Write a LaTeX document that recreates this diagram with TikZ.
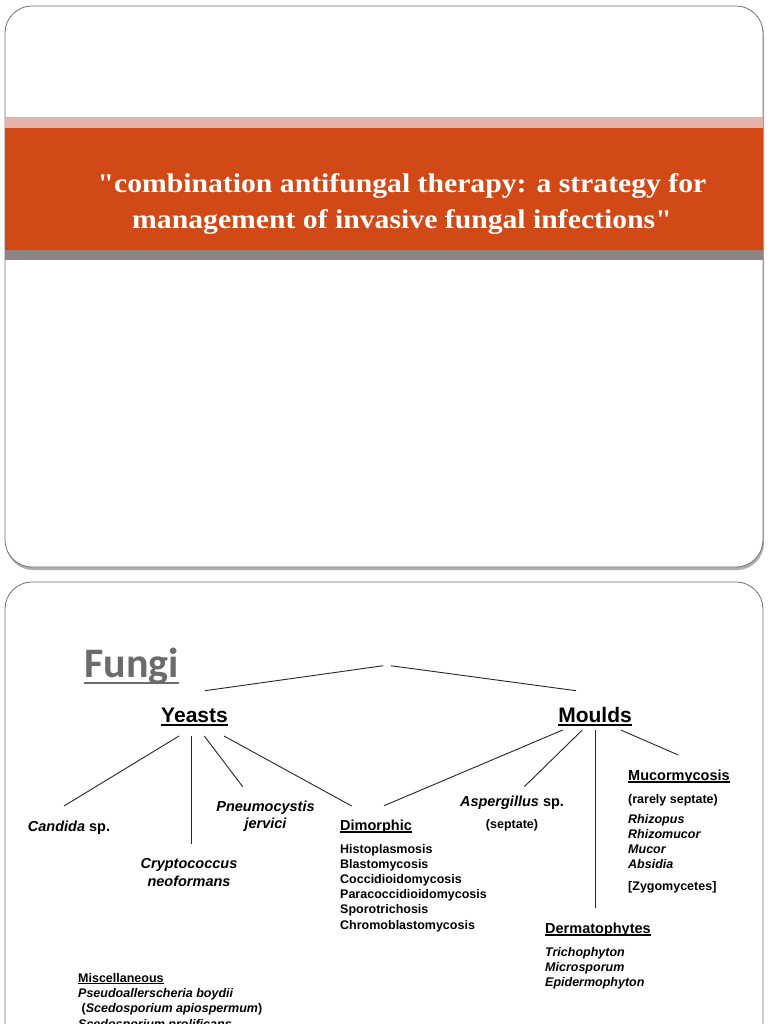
\documentclass[tikz,border=0pt]{standalone}
\usepackage{fontspec}
\usepackage{xcolor}
\usepackage{tikz}
\usetikzlibrary{calc,shadows}
\setmainfont{Liberation Sans}
\newfontfamily\titlefont[FakeStretch=1.10]{Liberation Serif}
\newfontfamily\fungifont{Carlito}
\definecolor{bandpink}{RGB}{230,178,172}
\definecolor{bandorange}{RGB}{209,73,22}
\definecolor{bandgray}{RGB}{140,132,133}
\definecolor{fungigray}{RGB}{107,107,107}
\newcommand{\undr}[3]{\setbox0\hbox{#3}\rlap{\rule[-#1]{\wd0}{#2}}\box0}
\tikzstyle{slide}=[draw=black!55,line width=0.8pt,rounded corners=27pt,fill=white]

\begin{document}
\begin{tikzpicture}[x=1pt,y=1pt]
	\tikzstyle{branch}=[line width=0.9pt,black!85]
	\tikzstyle{group}=[inner sep=0pt,anchor=base,font=\fontsize{21}{25}\selectfont\bfseries]
	\tikzstyle{taxon}=[inner sep=0pt,anchor=base,font=\fontsize{14.5}{17}\selectfont\bfseries]
	\tikzstyle{sublist}=[inner sep=0pt,anchor=base west,font=\fontsize{12.5}{15.3}\selectfont\bfseries]
	\useasboundingbox (0,0) rectangle (768,-1024);
	\clip (0,0) rectangle (768,-1024);
	% title slide
	\draw[slide,drop shadow={shadow xshift=1pt,shadow yshift=-3pt,opacity=.45,fill=black!70}] (5,-6) rectangle (763,-567);
	\fill[bandpink] (5,-117) rectangle (763,-128);
	\fill[bandorange] (5,-128) rectangle (763,-250);
	\fill[bandgray] (5,-250) rectangle (763,-260);
	\node [inner sep=0pt,anchor=base,text=white,font={\titlefont\bfseries\fontsize{27}{36}\selectfont}] (title) at (402,-193)
		{\begin{tabular}[t]{@{}c@{}}"combination antifungal therapy: a strategy for\\ management of invasive fungal infections"\end{tabular}};
	% fungi slide
	\draw[slide] (5,-582) rectangle (763,-1090);
	\node [inner sep=0pt,anchor=base west,text=fungigray,font={\fungifont\bfseries\fontsize{42}{48}\selectfont}] (fungi) at (84,-677) {\undr{7pt}{2pt}{Fungi}};
	\coordinate (root) at (387,-665.7);
	\node [group] (yeasts) at (194.5,-722) {\undr{3.6pt}{1.6pt}{Yeasts}};
	\node [group] (moulds) at (595,-722) {\undr{3.6pt}{1.6pt}{Moulds}};
	\node [taxon] (candida) at (69,-831) {\itshape Candida\upshape{} sp.};
	\node [taxon,font=\fontsize{14.5}{18}\selectfont\bfseries\itshape] (crypto) at (189,-868)
		{\begin{tabular}[t]{@{}c@{}}Cryptococcus\\ neoformans\end{tabular}};
	\node [taxon,font=\fontsize{14.5}{17}\selectfont\bfseries\itshape] (pneumo) at (265.5,-811)
		{\begin{tabular}[t]{@{}c@{}}Pneumocystis\\ jervici\end{tabular}};
	\node [taxon,anchor=base west] (dimorphic) at (340,-830) {\undr{2.6pt}{1.2pt}{Dimorphic}};
	\node [sublist,font=\fontsize{12.5}{15.2}\selectfont\bfseries] (dimlist) at (340,-853)
		{\begin{tabular}[t]{@{}l@{}}Histoplasmosis\\ Blastomycosis\\ Coccidioidomycosis\\ Paracoccidioidomycosis\\ Sporotrichosis\\ Chromoblastomycosis\end{tabular}};
	\node [taxon] (asper) at (512,-806) {\itshape Aspergillus\upshape{} sp.};
	\node [sublist,anchor=base] (septate) at (512,-828) {(septate)};
	\node [taxon,anchor=base west] (mucor) at (628,-780) {\undr{2.6pt}{1.2pt}{Mucormycosis}};
	\node [sublist] (mucnote) at (628,-803) {(rarely septate)};
	\node [sublist,font=\fontsize{12.5}{15.3}\selectfont\bfseries\itshape] (muclist) at (628,-823)
		{\begin{tabular}[t]{@{}l@{}}Rhizopus\\ Rhizomucor\\ Mucor\\ Absidia\end{tabular}};
	\node [sublist] (zygo) at (628,-890) {[Zygomycetes]};
	\node [taxon,anchor=base west] (derm) at (545,-933) {\undr{2.6pt}{1.2pt}{Dermatophytes}};
	\node [sublist,font=\fontsize{12.5}{15}\selectfont\bfseries\itshape] (dermlist) at (545,-956)
		{\begin{tabular}[t]{@{}l@{}}Trichophyton\\ Microsporum\\ Epidermophyton\end{tabular}};
	\node [sublist] (misc) at (78,-982) {\undr{2.2pt}{1pt}{Miscellaneous}};
	\node [sublist,font=\fontsize{12.5}{15.5}\selectfont\bfseries\itshape] (misclist) at (78,-997)
		{\begin{tabular}[t]{@{}l@{}}Pseudoallerscheria boydii\\ \ \upshape(\itshape Scedosporium apiospermum\upshape)\\ Scedosporium prolificans\end{tabular}};
	% branches
	\draw[branch] ($(root)+(-3.7,0)$) -- ($(yeasts.base)+(10.5,31.3)$);
	\draw[branch] ($(root)+(3.7,0)$) -- ($(moulds.base)+(-19,31.3)$);
	\draw[branch] ($(yeasts.base)+(-15.5,-14)$) -- ($(candida.base)+(-5,25)$);
	\draw[branch] ($(yeasts.base)+(-2.8,-14)$) -- ($(crypto.base)+(2.7,24)$);
	\draw[branch] ($(yeasts.base)+(9.8,-14)$) -- ($(pneumo.base)+(-22.8,24.3)$);
	\draw[branch] ($(yeasts.base)+(29.5,-14)$) -- ($(dimorphic.base west)+(11.7,24)$);
	\draw[branch] ($(moulds.base)+(-32.3,-8)$) -- ($(dimorphic.base west)+(44,24.3)$);
	\draw[branch] ($(moulds.base)+(-12.7,-8)$) -- ($(asper.base)+(12.3,19.3)$);
	\draw[branch] ($(moulds.base)+(0,-8)$) -- ($(derm.base west)+(50,25)$);
	\draw[branch] ($(moulds.base)+(25.7,-8)$) -- ($(mucor.base west)+(50.3,25)$);
\end{tikzpicture}
\end{document}
